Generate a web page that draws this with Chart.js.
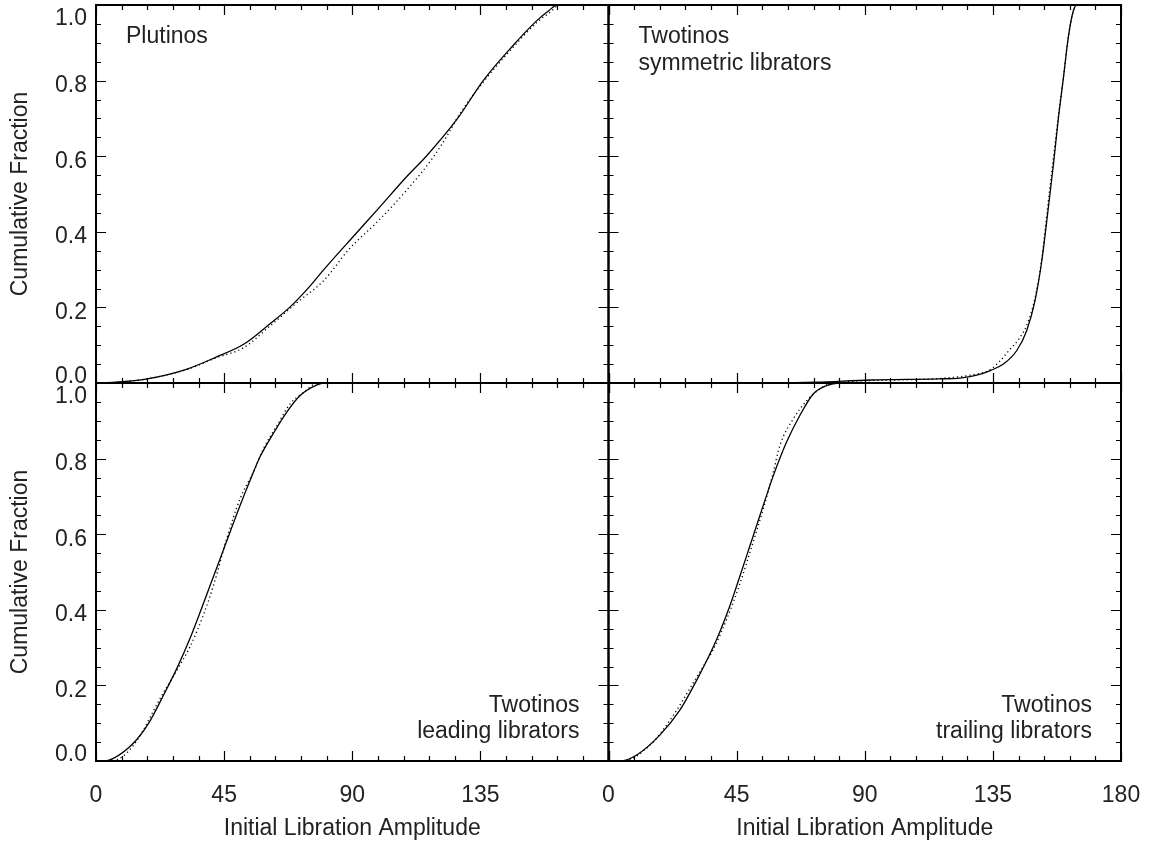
<!DOCTYPE html>
<html>
<head>
<meta charset="utf-8">
<script src="https://cdn.jsdelivr.net/npm/chart.js@4.4.0/dist/chart.umd.min.js"></script>
<style>
  html, body { margin: 0; padding: 0; background: #fff; }
</style>
</head>
<body>
<canvas id="cdf" width="1149" height="846"></canvas>
<script>
// x ticks and y tick labels
const xTicks = [0, 45, 90, 135, 180];
const yTicks = [0, 0.2, 0.4, 0.6, 0.8, 1.0];

// Plutinos (top left)
const plutAmp = [0, 7, 18, 32, 42, 52, 61, 68, 75, 80, 91, 99, 109, 116, 127, 136, 146, 155, 159, 162, 180];
const plutSolid = [0, 0.002, 0.011, 0.037, 0.068, 0.103, 0.156, 0.2, 0.255, 0.3, 0.393, 0.46, 0.545, 0.6, 0.7, 0.8, 0.889, 0.96, 0.985, 1.0, 1.0];
const plutDotAmp = [0, 7, 18, 32, 42, 52, 61, 70.5, 80, 89, 98.6, 109, 118.5, 124.4, 127, 136, 145.5, 155, 159.5, 163, 180];
const plutDotted = [0, 0.002, 0.011, 0.036, 0.066, 0.094, 0.15, 0.212, 0.271, 0.355, 0.425, 0.509, 0.598, 0.668, 0.703, 0.796, 0.88, 0.955, 0.981, 1.0, 1.0];

// Twotinos symmetric (top right)
const symAmp = [0, 60, 73, 92, 116, 123.5, 129, 134.1, 138.7, 143.4, 146.9, 149.8, 152.2, 154.5, 156.3, 158.0, 159.8, 161.5, 163.3, 164.5, 180];
const symSolid = [0, 0, 0.002, 0.008, 0.011, 0.013, 0.02, 0.033, 0.05, 0.086, 0.139, 0.218, 0.324, 0.465, 0.58, 0.7, 0.809, 0.915, 0.986, 1.0, 1.0];
const symDotAmp = [0, 72, 90, 116, 128, 134, 137.6, 141.1, 144, 147, 149.8, 152.2, 154.3, 156.1, 158, 159.8, 161.5, 163.3, 164.6, 180];
const symDotted = [0, 0, 0.006, 0.012, 0.022, 0.035, 0.059, 0.09, 0.115, 0.155, 0.225, 0.33, 0.47, 0.585, 0.705, 0.81, 0.915, 0.985, 1.0, 1.0];

// Twotinos leading (bottom left)
const leadAmp = [0, 2.6, 6.1, 13.1, 18.4, 23.7, 28.4, 33.0, 36.6, 40.1, 43.6, 47.1, 50.6, 54.1, 57.7, 62.4, 67.0, 71.7, 77.6, 80, 180];
const leadSolid = [0, 0, 0.007, 0.047, 0.099, 0.174, 0.245, 0.324, 0.394, 0.465, 0.535, 0.606, 0.676, 0.742, 0.806, 0.868, 0.923, 0.967, 0.995, 1.0, 1.0];
const leadDotAmp = [0, 4, 8.4, 14, 22.5, 28, 33, 37.7, 41.5, 45.9, 50.6, 55.3, 58.8, 63.5, 68.2, 72.9, 78, 180];
const leadDotted = [0, 0, 0.007, 0.05, 0.165, 0.235, 0.302, 0.386, 0.47, 0.588, 0.694, 0.765, 0.826, 0.887, 0.945, 0.975, 1.0, 1.0];

// Twotinos trailing (bottom right)
const trailAmp = [0, 4.1, 9.9, 18.1, 25.1, 32.1, 38, 42.7, 46.2, 49.7, 53.2, 57.9, 62.5, 67.2, 71.9, 76.6, 81, 180];
const trailSolid = [0, 0, 0.016, 0.069, 0.135, 0.23, 0.322, 0.412, 0.49, 0.57, 0.65, 0.755, 0.843, 0.914, 0.971, 0.993, 1.0, 1.0];
const trailDotAmp = [0, 5, 14.6, 21.6, 32.1, 36.8, 41.5, 46.2, 49.7, 54.4, 57.9, 60.2, 64.9, 69.6, 74.2, 79, 180];
const trailDotted = [0, 0, 0.042, 0.108, 0.236, 0.295, 0.375, 0.47, 0.553, 0.668, 0.765, 0.835, 0.905, 0.953, 0.984, 1.0, 1.0];

const FONT = '"Liberation Sans", Arial, Helvetica, sans-serif';
const INK = '#222';

function pts(xs, ys) {
  return xs.map((x, i) => ({ x: x, y: ys[i] }));
}

function line(xs, ys, xAxis, yAxis, dotted) {
  return {
    data: pts(xs, ys),
    xAxisID: xAxis,
    yAxisID: yAxis,
    borderColor: '#000',
    borderWidth: 1.3,
    borderDash: dotted ? [1.2, 3] : [],
    pointRadius: 0,
    cubicInterpolationMode: 'monotone',
    fill: false
  };
}

// which scales make up each panel, and its note
const panels = [
  { x: 'xL', y: 'yT', note: ['Plutinos'], side: 'left' },
  { x: 'xR', y: 'yT', note: ['Twotinos', 'symmetric librators'], side: 'left' },
  { x: 'xL', y: 'yB', note: ['Twotinos', 'leading librators'], side: 'right' },
  { x: 'xR', y: 'yB', note: ['Twotinos', 'trailing librators'], side: 'right' }
];

// frame, inward ticks, y labels and panel notes
const framePlugin = {
  id: 'frame',
  afterDatasetsDraw(chart) {
    const ctx = chart.ctx;
    ctx.save();
    ctx.strokeStyle = '#000';
    panels.forEach(p => {
      const xs = chart.scales[p.x], ys = chart.scales[p.y];
      const l = xs.left, r = xs.right, t = ys.top, b = ys.bottom;

      ctx.lineWidth = 1.2;
      ctx.beginPath();
      for (let v = 0; v <= 180; v += 9) {
        const px = Math.round(xs.getPixelForValue(v)) + 0.5;
        const len = v % 45 === 0 ? 10 : 5;
        ctx.moveTo(px, b); ctx.lineTo(px, b - len);
        ctx.moveTo(px, t); ctx.lineTo(px, t + len);
      }
      for (let k = 0; k <= 20; k++) {
        const py = Math.round(ys.getPixelForValue(k * 0.05)) + 0.5;
        const len = k % 4 === 0 ? 10 : 5;
        ctx.moveTo(l, py); ctx.lineTo(l + len, py);
        ctx.moveTo(r, py); ctx.lineTo(r - len, py);
      }
      ctx.stroke();

      ctx.lineWidth = 2;
      ctx.strokeRect(l, t, r - l, b - t);

      ctx.fillStyle = INK;
      ctx.font = '23px ' + FONT;
      ctx.textBaseline = 'alphabetic';
      if (p.side === 'left') {
        ctx.textAlign = 'left';
        p.note.forEach((s, i) => ctx.fillText(s, l + 30, t + 38 + i * 27));
      } else {
        ctx.textAlign = 'right';
        const n = p.note.length;
        p.note.forEach((s, i) => ctx.fillText(s, r - 29, b - 23 - (n - 1 - i) * 26));
      }
    });

    // y tick labels, kept inside each panel at the ends
    ['yT', 'yB'].forEach(id => {
      const ys = chart.scales[id];
      ctx.fillStyle = INK;
      ctx.font = '23px ' + FONT;
      ctx.textAlign = 'right';
      ctx.textBaseline = 'alphabetic';
      yTicks.forEach(v => {
        const py = ys.getPixelForValue(v);
        let base = py + 11.5;
        if (v === 1) base = py + 20;
        if (v === 0) base = py;
        ctx.fillText(v.toFixed(1), ys.right - 9, base);
      });
    });
    ctx.restore();
  }
};

function xScale(hideLast) {
  return {
    type: 'linear',
    position: 'bottom',
    stack: 'amp',
    min: 0,
    max: 180,
    afterBuildTicks: s => { s.ticks = xTicks.map(v => ({ value: v })); },
    afterFit: s => { s.height = 85; },
    // tick marks are drawn by the plugin; tickLength only sets the label gap
    grid: { display: false, drawTicks: true, tickLength: 21 },
    border: { display: false },
    ticks: {
      padding: 0,
      autoSkip: false,
      color: INK,
      font: { family: FONT, size: 23 },
      maxRotation: 0,
      callback: v => (hideLast && v === 180 ? '' : String(v))
    },
    title: {
      display: true,
      text: 'Initial Libration Amplitude',
      color: INK,
      font: { family: FONT, size: 23 },
      padding: { top: 0, bottom: 4 }
    }
  };
}

function yScale() {
  return {
    type: 'linear',
    position: 'left',
    stack: 'frac',
    min: 0,
    max: 1,
    afterFit: s => { s.width = 96; },
    grid: { display: false, drawTicks: false },
    border: { display: false },
    ticks: { display: false },
    title: {
      display: true,
      text: 'Cumulative Fraction',
      color: INK,
      font: { family: FONT, size: 23 },
      padding: { top: 7, bottom: 0 }
    }
  };
}

new Chart(document.getElementById('cdf'), {
  type: 'line',
  data: {
    datasets: [
      line(plutAmp, plutSolid, 'xL', 'yT', false),
      line(plutDotAmp, plutDotted, 'xL', 'yT', true),
      line(symAmp, symSolid, 'xR', 'yT', false),
      line(symDotAmp, symDotted, 'xR', 'yT', true),
      line(leadAmp, leadSolid, 'xL', 'yB', false),
      line(leadDotAmp, leadDotted, 'xL', 'yB', true),
      line(trailAmp, trailSolid, 'xR', 'yB', false),
      line(trailDotAmp, trailDotted, 'xR', 'yB', true)
    ]
  },
  options: {
    responsive: false,
    devicePixelRatio: 1,
    animation: false,
    layout: { padding: { left: 0, top: 5, right: 28, bottom: 0 } },
    plugins: { legend: { display: false }, tooltip: { enabled: false } },
    scales: {
      xL: xScale(true),
      xR: xScale(false),
      // left-side stacks are placed in reverse order, so the lower panel comes first
      yB: yScale(),
      yT: yScale()
    }
  },
  plugins: [framePlugin]
});
</script>
</body>
</html>
